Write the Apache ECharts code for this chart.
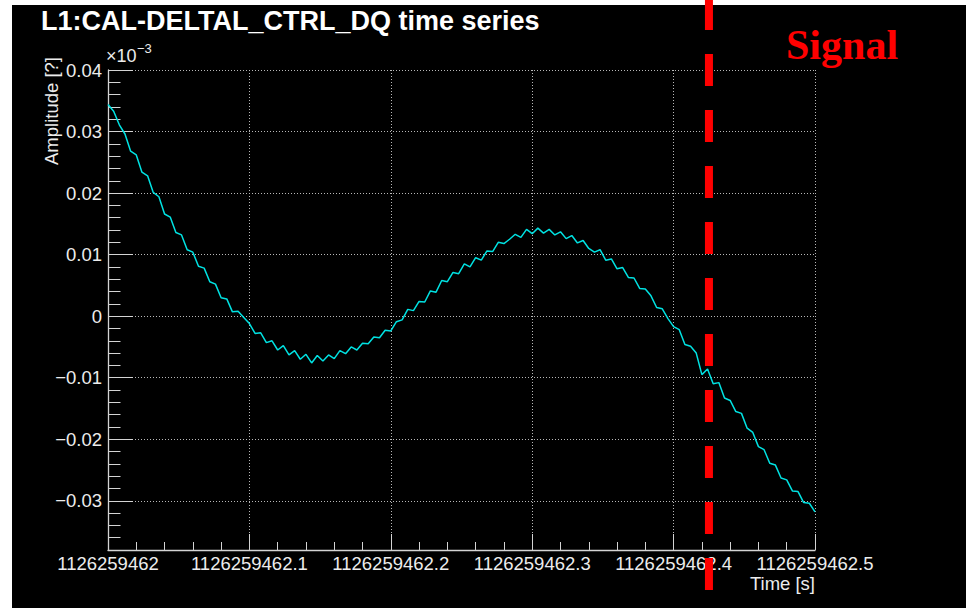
<!DOCTYPE html>
<html><head><meta charset="utf-8">
<script src="https://cdn.jsdelivr.net/npm/echarts@6/dist/echarts.min.js"></script>
<style>html,body{margin:0;padding:0;background:#000;}#c{width:966px;height:608px;}</style>
</head><body><div id="c"></div>
<script>
const chartTitle = 'L1:CAL-DELTAL_CTRL_DQ time series';
const xAxisTitle = 'Time [s]';
const yAxisTitle = 'Amplitude [?]';
const xTickLabels = ['1126259462','1126259462.1','1126259462.2','1126259462.3','1126259462.4','1126259462.5'];
const xRange = [0, 0.5];
const yRange = [-0.038, 0.04];
const yExponentBase = '\u00d710';
const yExponent = '\u22123';
const sampleStep = 0.004;
const amplitude = [
 0.0344, 0.0333, 0.0311, 0.0296, 0.0268, 0.0262, 0.0234, 0.0228, 0.0201, 0.0194,
 0.0166, 0.0161, 0.0136, 0.0132, 0.0108, 0.0104, 0.0081, 0.0078, 0.0056, 0.0052,
 0.0030, 0.0028, 0.0007, 0.0008, -0.0002, -0.0012, -0.0028, -0.0027, -0.0043, -0.0040,
 -0.0055, -0.0048, -0.0063, -0.0056, -0.0070, -0.0062, -0.0076, -0.0064, -0.0073, -0.0063,
 -0.0069, -0.0056, -0.0061, -0.0050, -0.0055, -0.0044, -0.0045, -0.0034, -0.0035, -0.0023,
 -0.0024, -0.0009, -0.0006, 0.0011, 0.0009, 0.0024, 0.0023, 0.0041, 0.0039, 0.0058,
 0.0056, 0.0071, 0.0069, 0.0085, 0.0080, 0.0095, 0.0091, 0.0106, 0.0105, 0.0120,
 0.0118, 0.0125, 0.0133, 0.0128, 0.0141, 0.0134, 0.0143, 0.0135, 0.0141, 0.0132,
 0.0137, 0.0126, 0.0131, 0.0119, 0.0123, 0.0110, 0.0104, 0.0108, 0.0091, 0.0093,
 0.0077, 0.0079, 0.0063, 0.0062, 0.0045, 0.0044, 0.0033, 0.0014, 0.0012, -0.0004,
 -0.0017, -0.0022, -0.0046, -0.0049, -0.0060, -0.0095, -0.0086, -0.0110, -0.0108, -0.0133,
 -0.0137, -0.0155, -0.0158, -0.0182, -0.0189, -0.0212, -0.0217, -0.0239, -0.0242, -0.0263,
 -0.0266, -0.0284, -0.0285, -0.0303, -0.0304, -0.0318
];
const signalTime = 0.425;
const signalLabel = 'Signal';

const FONT = '"Liberation Sans", Arial, Helvetica, sans-serif';
const SERIF = '"Liberation Serif", "Times New Roman", Times, serif';
const AX = '#d4d4d4';
const LBL = '#ececec';
const GRIDC = '#b8b8b8';

const seriesData = amplitude.map((v, i) => [+(i * sampleStep).toFixed(4), v]);

function fmtY(v) {
  if (Math.abs(v) < 1e-9) return '0';
  const r = Math.round(v * 100);
  if (Math.abs(v * 100 - r) > 1e-6) return '';
  return (r < 0 ? '\u2212' : '') + Math.abs(v).toFixed(2);
}
function fmtX(v) {
  const idx = Math.round(v / 0.1);
  if (Math.abs(v - idx * 0.1) > 1e-6) return '';
  return xTickLabels[idx] || '';
}

const chart = echarts.init(document.getElementById('c'), null, { renderer: 'svg' });

chart.setOption({
  backgroundColor: '#000',
  animation: false,
  title: {
    text: chartTitle, left: 41, top: 7.5, padding: 0,
    textStyle: { color: '#ffffff', fontSize: 27, fontWeight: 'bold', fontFamily: FONT }
  },
  grid: { left: 108, right: 151, top: 70, bottom: 58, containLabel: false },
  xAxis: [
    {
      type: 'value', min: xRange[0], max: xRange[1], interval: 0.02, position: 'bottom',
      axisLine: { show: false, onZero: false },
      axisTick: { show: true, inside: true, length: 8, lineStyle: { color: AX, width: 1 } },
      axisLabel: { show: false }, splitLine: { show: false }
    },
    {
      type: 'value', min: xRange[0], max: xRange[1], interval: 0.1, position: 'bottom',
      axisLine: { show: true, onZero: false, lineStyle: { color: AX, width: 1.3 } },
      axisTick: { show: true, inside: true, length: 16, lineStyle: { color: AX, width: 1 } },
      axisLabel: { show: true, formatter: fmtX, color: LBL, fontSize: 18.5, fontFamily: FONT, margin: 4, showMinLabel: true, showMaxLabel: true },
      splitLine: { show: true, lineStyle: { color: GRIDC, width: 1, type: [1, 2] } }
    }
  ],
  yAxis: [
    {
      type: 'value', min: yRange[0], max: yRange[1], interval: 0.002, position: 'left',
      axisLine: { show: false, onZero: false },
      axisTick: { show: true, inside: true, length: 12.5, lineStyle: { color: AX, width: 1 } },
      axisLabel: { show: false }, splitLine: { show: false }
    },
    {
      type: 'value', min: yRange[0], max: yRange[1], minInterval: 0.01, maxInterval: 0.01, splitNumber: 8, position: 'left',
      axisLine: { show: true, onZero: false, lineStyle: { color: AX, width: 1.3 } },
      axisTick: { show: true, inside: true, length: 25, lineStyle: { color: AX, width: 1 } },
      axisLabel: { show: true, formatter: fmtY, color: LBL, fontSize: 18.5, fontFamily: FONT, margin: 6 },
      splitLine: { show: true, lineStyle: { color: GRIDC, width: 1, type: [1, 2] } }
    }
  ],
  series: [{
    type: 'line', xAxisIndex: 1, yAxisIndex: 1, data: seriesData,
    showSymbol: false, symbol: 'none', smooth: false,
    lineStyle: { color: '#00e2e2', width: 1.5 }, z: 5
  }]
});

const sx = chart.convertToPixel({ xAxisIndex: 1 }, signalTime);

chart.setOption({
  graphic: [
    { type: 'rect', z: 1, shape: { x: 0, y: 0, width: 966, height: 5 }, style: { fill: '#ffffff' } },
    { type: 'rect', z: 1, shape: { x: 0, y: 0, width: 12, height: 608 }, style: { fill: '#ffffff' } },
    { type: 'text', z: 50, x: 51, y: 57, rotation: Math.PI / 2,
      style: { text: yAxisTitle, fill: LBL, fontSize: 18.5, fontFamily: FONT, align: 'right', verticalAlign: 'middle' } },
    { type: 'text', z: 50, x: 815, y: 583,
      style: { text: xAxisTitle, fill: LBL, fontSize: 18.5, fontFamily: FONT, align: 'right', verticalAlign: 'middle' } },
    { type: 'text', z: 50, x: 106, y: 56,
      style: { text: yExponentBase, fill: LBL, fontSize: 18, fontFamily: FONT, align: 'left', verticalAlign: 'middle' } },
    { type: 'text', z: 50, x: 137, y: 48,
      style: { text: yExponent, fill: LBL, fontSize: 13, fontFamily: FONT, align: 'left', verticalAlign: 'middle' } },
    { type: 'text', z: 50, x: 786, y: 45,
      style: { text: signalLabel, fill: '#ff0000', fontSize: 42, fontWeight: 'bold', fontFamily: SERIF, align: 'left', verticalAlign: 'middle' } },
    { type: 'line', z: 100, shape: { x1: sx, y1: -2, x2: sx, y2: 590 },
      style: { stroke: '#ff0000', lineWidth: 8, lineDash: [32, 24] } }
  ]
});
</script>
</body></html>
